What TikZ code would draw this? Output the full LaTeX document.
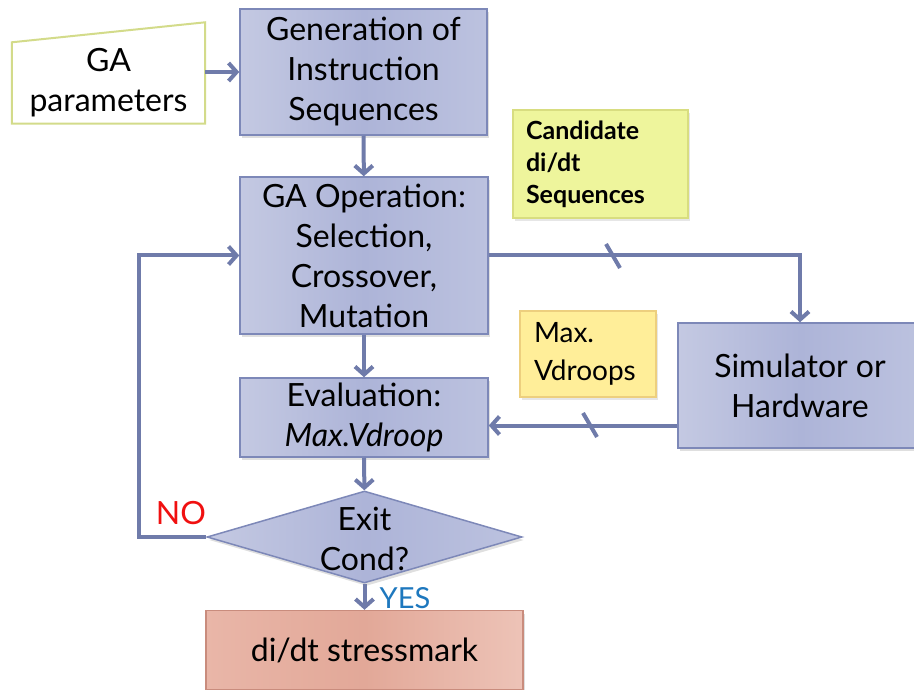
\documentclass[tikz,border=0pt]{standalone}
\usepackage{fontspec}
\setmainfont{Lato}
\usetikzlibrary{shapes.geometric,arrows.meta,shadows}

\definecolor{boxline}{HTML}{7D88B8}
\definecolor{flowline}{HTML}{6F7BAA}
\definecolor{blueL}{HTML}{C4C9E2}
\definecolor{blueM}{HTML}{ADB4D8}
\definecolor{blueR}{HTML}{BCC2DF}
\definecolor{paramline}{HTML}{D3DB8A}
\definecolor{candfill}{HTML}{EEF59C}
\definecolor{candline}{HTML}{D8DD80}
\definecolor{vdfill}{HTML}{FFEE99}
\definecolor{vdline}{HTML}{EDCF7E}
\definecolor{stressL}{HTML}{E9B6A8}
\definecolor{stressM}{HTML}{E2A898}
\definecolor{stressR}{HTML}{EDC3B7}
\definecolor{stressline}{HTML}{C98C7D}
\definecolor{noRed}{HTML}{F01010}
\definecolor{yesBlue}{HTML}{1E78BE}

\begin{document}
\begin{tikzpicture}[x=1pt,y=-1pt,
    every node/.style={font=\fontsize{32}{40}\selectfont},
    blockbox/.style={draw=boxline, line width=1.5pt, left color=blueL, right color=blueR, middle color=blueM,
        align=center, inner sep=0pt, drop shadow={opacity=0.25, shadow xshift=2pt, shadow yshift=-3pt}},
    notebox/.style={line width=1.5pt, align=left, inner sep=0pt,
        drop shadow={opacity=0.2, shadow xshift=2pt, shadow yshift=-3pt}},
    flow/.style={draw=flowline, line width=4pt, -{Straight Barb[length=8pt,width=18pt]}},
    slash/.style={draw=flowline, line width=4pt}]

    \useasboundingbox (0,0) rectangle (914,690);

    % GA parameters (slanted top)
    \node[minimum width=193pt, minimum height=81pt, inner sep=0pt, align=center] (params) at (108.5,83) {GA\\parameters};
    \draw[draw=paramline, line width=2pt] (params.south west) -- (params.south east) -- ([yshift=20pt]params.north east) -- (params.north west) -- cycle;

    % main flow
    \node[blockbox, minimum width=247pt, minimum height=126pt] (gen) at (363.5,72) {Generation of\\Instruction\\Sequences};
    \node[blockbox, minimum width=248pt, minimum height=157pt] (op) at (364,255.5) {GA Operation:\\Selection,\\Crossover,\\Mutation};
    \node[blockbox, minimum width=248pt, minimum height=79pt] (eval) at (364,417.5) {Evaluation:\\\textit{Max.Vdroop}};
    \node[blockbox, shape=diamond, minimum width=315pt, minimum height=92pt] (exit) at (364.5,537)
        {\smash{\raisebox{-12pt}{\begin{tabular}{@{}c@{}}Exit\\Cond?\end{tabular}}}};
    \node[blockbox, draw=stressline, left color=stressL, right color=stressR, middle color=stressM,
        minimum width=317pt, minimum height=79pt] (stress) at (364.5,650) {di/dt stressmark};

    % simulator on the right
    \node[blockbox, minimum width=244pt, minimum height=125pt] (sim) at (800,385.5) {Simulator or\\Hardware};

    % notes
    \node[notebox, draw=candline, fill=candfill, minimum width=175pt, minimum height=108pt, text width=149pt,
        font=\fontsize{25}{32}\selectfont\bfseries] (cand) at (600.5,164) {Candidate\\di/dt\\Sequences};
    \node[notebox, draw=vdline, fill=vdfill, minimum width=136pt, minimum height=86pt, text width=108pt,
        font=\fontsize{28}{38}\selectfont] (maxv) at (588,354) {Max.\\Vdroops};

    % arrows
    \draw[flow] (params.east |- gen.west) -- (gen.west);
    \draw[flow] (gen) -- (op);
    \draw[flow] (op) -- (eval);
    \draw[flow] (eval) -- (exit);
    \draw[flow] (exit) -- (stress);
    \draw[flow] (op.east) -| (sim.north);
    \coordinate (vd) at ([yshift=-8pt]eval.east);
    \draw[flow] (sim.west |- vd) -- (vd);
    \draw[flow] (exit.west) -- ++(-67,0) |- (op.west);

    % slashes on the data lines
    \draw[slash] (613,256) +(-7,-12) -- +(7,12);
    \draw[slash] (590,425) +(-7,-12) -- +(7,12);

    % labels
    \node[text=noRed] (no) at (181,513) {NO};
    \node[text=yesBlue, font=\fontsize{29}{30}\selectfont] (yes) at (405,598) {YES};

\end{tikzpicture}
\end{document}
